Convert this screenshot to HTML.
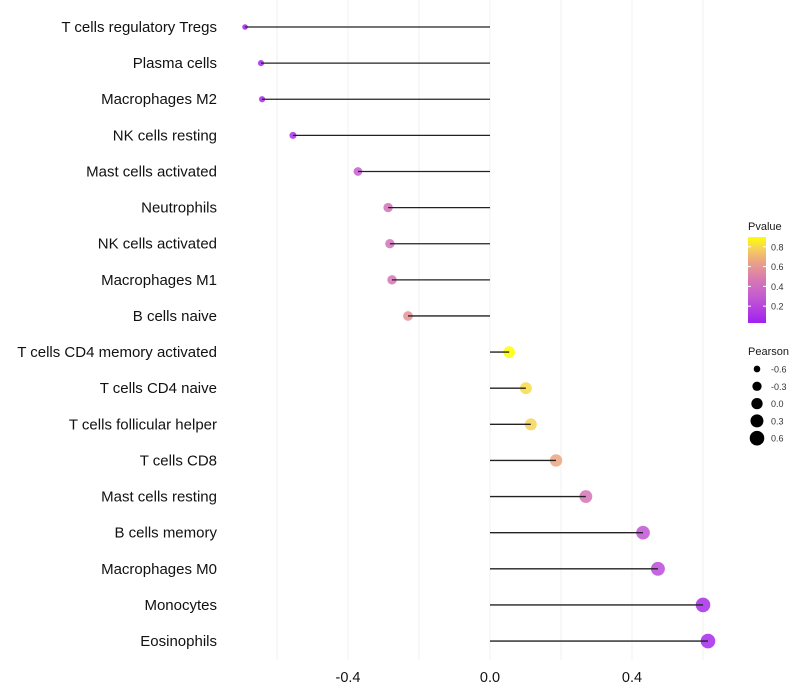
<!DOCTYPE html>
<html><head><meta charset="utf-8"><style>
body{margin:0;background:#fff;font-family:"Liberation Sans",sans-serif}
svg{display:block}
</style></head><body>
<svg id="chart" width="800" height="700" xmlns="http://www.w3.org/2000/svg">
<g id="grid"></g>
<g id="marks"></g>
<g id="ylab"></g>
<g id="xlab"></g>
<g id="legend"></g>
</svg>
<script>
const categories=["T cells regulatory  Tregs","Plasma cells","Macrophages M2","NK cells resting","Mast cells activated","Neutrophils","NK cells activated","Macrophages M1","B cells naive","T cells CD4 memory activated","T cells CD4 naive","T cells follicular helper","T cells CD8","Mast cells resting","B cells memory","Macrophages M0","Monocytes","Eosinophils"];
const pearson=[-0.69,-0.645,-0.642,-0.555,-0.372,-0.287,-0.282,-0.276,-0.231,0.054,0.101,0.115,0.186,0.27,0.431,0.473,0.6,0.614];
const pvalue=[0.04,0.06,0.06,0.1,0.3,0.42,0.43,0.45,0.58,0.89,0.8,0.78,0.65,0.45,0.26,0.22,0.08,0.07];
const xTicks=[-0.4,0.0,0.4];
const gridTicks=[-0.6,-0.4,-0.2,0,0.2,0.4,0.6];
const pTicks=[0.2,0.4,0.6,0.8];
const sizeTicks=[-0.6,-0.3,0.0,0.3,0.6];

const NS="http://www.w3.org/2000/svg";
const x=v=>490+v*355;
const y=i=>27+i*36.12;
const r=v=>Math.sqrt(Math.max(5,32+35*v));
const stops=[[0,[160,32,240]],[0.3,[196,90,210]],[0.5,[214,120,180]],[0.7,[234,160,136]],[0.87,[246,210,90]],[1,[255,255,0]]];
function col(p){const t=Math.max(0,Math.min(1,(p-0.03)/0.86));
 for(let k=1;k<stops.length;k++){if(t<=stops[k][0]){const a=stops[k-1],b=stops[k],f=(t-a[0])/(b[0]-a[0]);
  return `rgb(${a[1].map((c,j)=>Math.round(c+(b[1][j]-c)*f)).join(',')})`;}}
 return 'rgb(255,255,0)';}
function mk(tag,attrs,parent){const e=document.createElementNS(NS,tag);for(const k in attrs)e.setAttribute(k,attrs[k]);parent.appendChild(e);return e;}
const G=document.getElementById('grid'),M=document.getElementById('marks'),YL=document.getElementById('ylab'),XL=document.getElementById('xlab'),L=document.getElementById('legend');
gridTicks.forEach(t=>{const l=mk('line',{x1:x(t),x2:x(t),y1:0,y2:660,stroke:'#f2f2f2','stroke-width':1},G);
 
 });
categories.forEach((c,i)=>{
 const t=mk('text',{x:217,y:y(i)+5,'text-anchor':'end','font-size':15,fill:'#111'},YL);t.textContent=c;
 
 
 const p=mk('circle',{cx:x(pearson[i]),cy:y(i),r:r(pearson[i]),fill:col(pvalue[i]),'fill-opacity':0.85},M);
 
 
 const s=mk('line',{x1:x(0),x2:x(pearson[i]),y1:y(i),y2:y(i),stroke:'#222','stroke-width':1.3},M);
 
 
});
xTicks.forEach(t=>{const e=mk('text',{x:x(t),y:682,'text-anchor':'middle','font-size':14.5,fill:'#111'},XL);e.textContent=t.toFixed(1);
 
 });
let tt=mk('text',{x:748,y:230,'font-size':11,fill:'#1a1a1a'},L);tt.textContent='Pvalue';


const defs=mk('defs',{},L);const lg=mk('linearGradient',{id:'pg',x1:0,y1:1,x2:0,y2:0},defs);
[0,0.15,0.3,0.4,0.5,0.6,0.7,0.8,0.87,1].forEach(o=>mk('stop',{offset:o,'stop-color':col(0.03+0.86*o)},lg));
const bar=mk('rect',{x:748,y:237,width:18,height:86,fill:'url(#pg)'},L);


const py=p=>323-(p-0.03)*99;
pTicks.forEach(p=>{mk('line',{x1:748,x2:751,y1:py(p),y2:py(p),stroke:'#fff'},L);mk('line',{x1:763,x2:766,y1:py(p),y2:py(p),stroke:'#fff'},L);
 const e=mk('text',{x:771,y:py(p)+3.5,'font-size':9,fill:'#333'},L);e.textContent=p.toFixed(1);
 
 });
tt=mk('text',{x:748,y:355,'font-size':11,fill:'#1a1a1a'},L);tt.textContent='Pearson';


sizeTicks.forEach((v,i)=>{const cy=369+i*17.3;
 const c=mk('circle',{cx:757,cy:cy,r:r(v),fill:'#000'},L);
 
 
 const e=mk('text',{x:771,y:cy+3.5,'font-size':9,fill:'#333'},L);e.textContent=v.toFixed(1);
 
 });
</script>
</body></html>
